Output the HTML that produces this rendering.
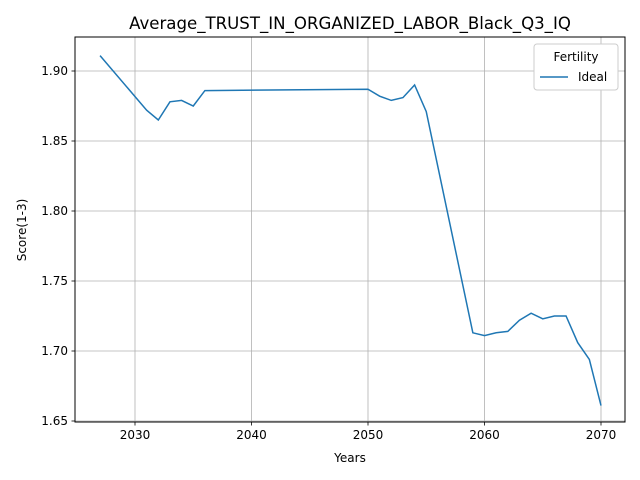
<!DOCTYPE html>
<html><head><meta charset="utf-8"><style>
body{margin:0;background:#fff;}
svg{display:block;font-family:"DejaVu Sans","Liberation Sans",sans-serif;}
</style></head><body>
<svg id="chart" width="640" height="480">
<rect width="640" height="480" fill="#fff"/>
<text x="350" y="29" font-size="16.6" text-anchor="middle">Average_TRUST_IN_ORGANIZED_LABOR_Black_Q3_IQ</text>
<g id="grid"></g>
<g id="ticks"></g>
<path id="line" fill="none" stroke="#1f77b4" stroke-width="1.5"/>
<rect x="75" y="37" width="550" height="385" fill="none" stroke="#000" stroke-width="1"/>
<text x="350" y="462" font-size="12" text-anchor="middle">Years</text>
<text x="26" y="230" font-size="12" text-anchor="middle" transform="rotate(-90 26 230)">Score(1-3)</text>
<g>
<rect x="534" y="44" width="84" height="46" rx="3" fill="#fff" stroke="#ccc"/>
<text x="576" y="61" font-size="12" text-anchor="middle">Fertility</text>
<line x1="540" y1="77" x2="568" y2="77" stroke="#1f77b4" stroke-width="1.5"/>
<text x="578" y="81" font-size="12">Ideal</text>
</g>
</svg>
<script>
const years=[2027,2031,2032,2033,2034,2035,2036,2050,2051,2052,2053,2054,2055,2059,2060,2061,2062,2063,2064,2065,2066,2067,2068,2069,2070];
const values=[1.911,1.872,1.865,1.878,1.879,1.875,1.886,1.887,1.882,1.879,1.881,1.890,1.871,1.713,1.711,1.713,1.714,1.722,1.727,1.723,1.725,1.725,1.706,1.694,1.661];
const xTicks=[2030,2040,2050,2060,2070];
const yTicks=[1.65,1.70,1.75,1.80,1.85,1.90];
const sx=v=>135+(v-2030)*11.65;
const sy=v=>421-(v-1.65)*1400;
const ns="http://www.w3.org/2000/svg";
const grid=document.getElementById('grid'),ticks=document.getElementById('ticks');
function mk(tag,attrs,parent){const e=document.createElementNS(ns,tag);for(const k in attrs)e.setAttribute(k,attrs[k]);parent.appendChild(e);return e;}
xTicks.forEach(t=>{const x=sx(t);
const g=mk('line',{x1:x,x2:x,y1:37,y2:422,stroke:'#b0b0b0','stroke-width':0.8},grid);


mk('line',{x1:x,x2:x,y1:422,y2:425.5,stroke:'#000','stroke-width':0.8},ticks);
const l=mk('text',{x:x,y:439,'font-size':12,'text-anchor':'middle'},ticks);l.textContent=t;

});
yTicks.forEach(t=>{const y=sy(t);
const g=mk('line',{x1:75,x2:625,y1:y,y2:y,stroke:'#b0b0b0','stroke-width':0.8},grid);


mk('line',{x1:71.5,x2:75,y1:y,y2:y,stroke:'#000','stroke-width':0.8},ticks);
const l=mk('text',{x:68,y:y+4,'font-size':12,'text-anchor':'end'},ticks);l.textContent=t.toFixed(2);

});
document.getElementById('line').setAttribute('d',years.map((y,i)=>(i?'L':'M')+sx(y)+','+sy(values[i])).join(' '));
</script>
</body></html>
